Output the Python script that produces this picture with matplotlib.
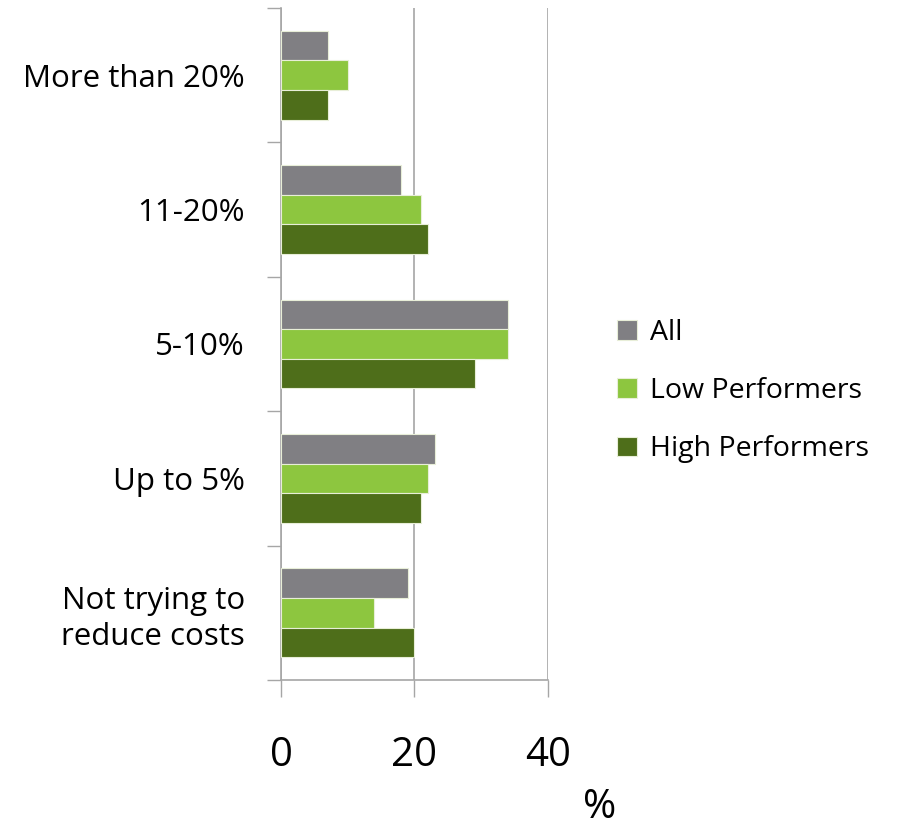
import numpy as np
import matplotlib
matplotlib.use("Agg")
from matplotlib import pyplot as plt

plt.rcParams['font.family'] = ['Open Sans', 'DejaVu Sans']

# 数据
categories = ['More than 20%', '11-20%', '5-10%', 'Up to 5%', 'Not trying to\nreduce costs']
all_vals = [7, 18, 34, 23, 19]
low_vals = [10, 21, 34, 22, 14]
high_vals = [7, 22, 29, 21, 20]
series_names = ['All', 'Low Performers', 'High Performers']
colors = ['#807F83', '#8DC63F', '#4E6E1A']
x_ticks = [0, 20, 40]

fig = plt.figure(figsize=(9.01, 8.31), dpi=100)
ax = fig.add_axes([281 / 901, 1 - 680 / 831, 267 / 901, 672 / 831])

_y = np.arange(len(categories))
h = 0.22
for i, (vals, name, c) in enumerate(zip([all_vals, low_vals, high_vals], series_names, colors)):
    ax.barh(_y + (i - 1) * h, vals, height=h, color=c, edgecolor='#E8EED8',
            linewidth=0.8, label=name, zorder=3)

ax.set_xlim(0, 40)
ax.set_ylim(len(categories) - 0.5, -0.5)

# 网格
ax.set_xticks(x_ticks)
ax.set_xticklabels([str(v) for v in x_ticks], fontsize=29)
ax.grid(axis='x', color='#A6A6A6', linewidth=1.2, zorder=0)
ax.tick_params(axis='x', length=12, width=1, color='#A6A6A6', pad=28)

# y轴：刻度在分类边界，标签在中心
ax.set_yticks(np.arange(len(categories) + 1) - 0.5)
ax.set_yticklabels([])
ax.set_yticks(_y, minor=True)
ax.set_yticklabels(categories, minor=True, fontsize=22.5, linespacing=1.25)
ax.tick_params(axis='y', which='major', length=10, width=1, color='#A6A6A6')
ax.tick_params(axis='y', which='minor', length=0, pad=26)

for s in ['top', 'right']:
    ax.spines[s].set_visible(False)
for s in ['left', 'bottom']:
    ax.spines[s].set_color('#A6A6A6')
    ax.spines[s].set_linewidth(1.2)

ax.set_xlabel('%', fontsize=29)
ax.xaxis.set_label_coords((600 - 281) / 267, -0.16)

ax.legend(loc='center left', bbox_to_anchor=(617 / 901, 1 - 391 / 831),
          bbox_transform=fig.transFigure, frameon=False, fontsize=20.5,
          borderpad=0, borderaxespad=0,
          handlelength=0.7, handleheight=0.7, handletextpad=0.45, labelspacing=1.07)

plt.savefig('out.png', dpi=100)
